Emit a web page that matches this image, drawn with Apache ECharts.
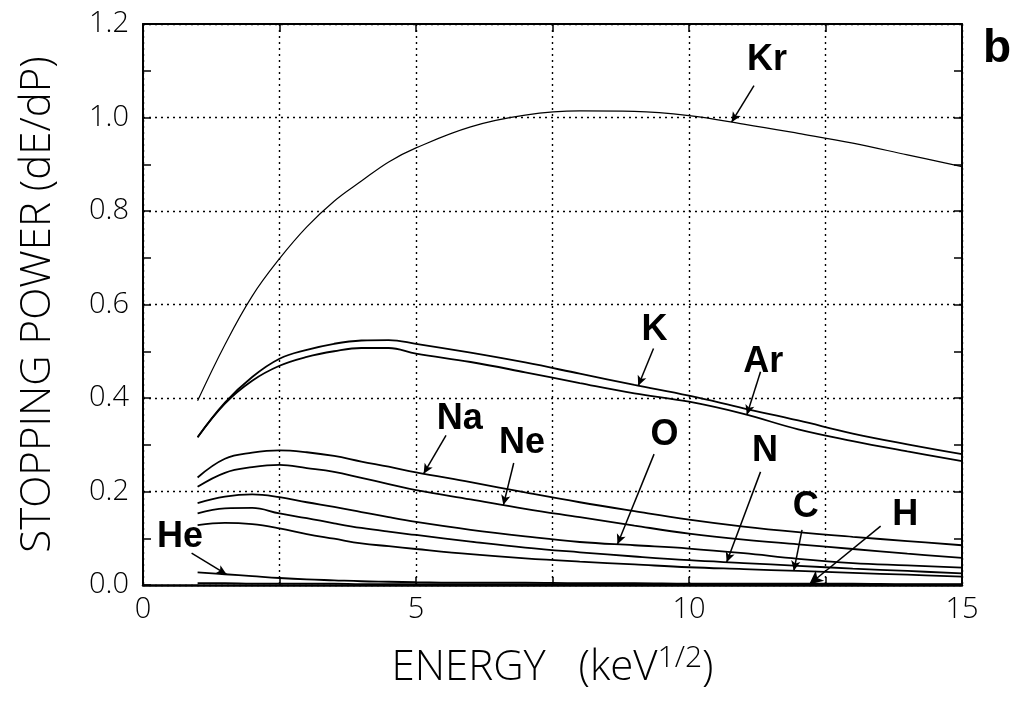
<!DOCTYPE html>
<html>
<head>
<meta charset="utf-8">
<script src="https://cdn.jsdelivr.net/npm/echarts@6/dist/echarts.min.js"></script>
<style>
  html, body { margin: 0; padding: 0; background: #fff; }
  #chart { width: 1017px; height: 703px; }
</style>
</head>
<body>
<div id="chart"></div>
<script>
// Energy grid (keV^1/2) shared by every curve
const energy = [1, 1.5, 2, 2.5, 3, 3.5, 4, 4.5, 5, 6, 7, 8, 9, 10, 11, 12, 13, 14, 15];

// Stopping power curves, one array per projectile
const kr = [0.394, 0.514, 0.618, 0.698, 0.766, 0.821, 0.864, 0.905, 0.935, 0.980, 1.005, 1.014, 1.013, 1.004, 0.986, 0.966, 0.945, 0.920, 0.895];
const k  = [0.316, 0.390, 0.445, 0.484, 0.503, 0.516, 0.523, 0.524, 0.516, 0.497, 0.476, 0.452, 0.428, 0.405, 0.378, 0.352, 0.324, 0.301, 0.280];
const ar = [0.316, 0.388, 0.437, 0.469, 0.488, 0.500, 0.507, 0.507, 0.495, 0.477, 0.455, 0.432, 0.410, 0.392, 0.366, 0.333, 0.308, 0.286, 0.265];
const na = [0.230, 0.270, 0.283, 0.288, 0.284, 0.276, 0.264, 0.253, 0.241, 0.220, 0.198, 0.177, 0.158, 0.140, 0.125, 0.113, 0.103, 0.094, 0.085];
const ne = [0.210, 0.240, 0.252, 0.257, 0.250, 0.242, 0.229, 0.216, 0.203, 0.183, 0.163, 0.145, 0.127, 0.110, 0.097, 0.087, 0.077, 0.067, 0.058];
const ox = [0.175, 0.189, 0.194, 0.188, 0.177, 0.167, 0.156, 0.145, 0.135, 0.118, 0.104, 0.092, 0.085, 0.078, 0.068, 0.056, 0.047, 0.042, 0.037];
const ni = [0.153, 0.164, 0.165, 0.153, 0.143, 0.132, 0.122, 0.114, 0.107, 0.093, 0.080, 0.070, 0.061, 0.053, 0.047, 0.041, 0.035, 0.030, 0.025];
const ca = [0.128, 0.133, 0.130, 0.121, 0.109, 0.099, 0.089, 0.083, 0.077, 0.066, 0.057, 0.050, 0.044, 0.038, 0.034, 0.030, 0.026, 0.022, 0.018];
const he = [0.027, 0.023, 0.019, 0.015, 0.012, 0.010, 0.008, 0.007, 0.006, 0.005, 0.005, 0.004, 0.004, 0.003, 0.003, 0.003, 0.003, 0.002, 0.002];
const hy = [0.004, 0.004, 0.003, 0.003, 0.003, 0.003, 0.002, 0.002, 0.002, 0.002, 0.002, 0.002, 0.001, 0.001, 0.001, 0.001, 0.001, 0.001, 0.001];

// Axis tick labels
const xTickLabels = ['0', '5', '10', '15'];
const yTickLabels = ['0.0', '0.2', '0.4', '0.6', '0.8', '1.0', '1.2'];

const curves = [
  { name: 'Kr', values: kr, width: 1.2 },
  { name: 'K',  values: k,  width: 1.8 },
  { name: 'Ar', values: ar, width: 1.8 },
  { name: 'Na', values: na, width: 1.8 },
  { name: 'Ne', values: ne, width: 1.8 },
  { name: 'O',  values: ox, width: 1.8 },
  { name: 'N',  values: ni, width: 1.8 },
  { name: 'C',  values: ca, width: 1.8 },
  { name: 'He', values: he, width: 1.8 },
  { name: 'H',  values: hy, width: 1.8 }
];

// Callouts: text anchor, arrow start, and the energy the arrow points at on its curve
const callouts = [
  { curve: 'Kr', text: [11.43, 1.122], from: [11.19, 1.068], at: 10.78 },
  { curve: 'K',  text: [9.37, 0.545],  from: [9.35, 0.506],  at: 9.07 },
  { curve: 'Ar', text: [11.36, 0.476], from: [11.31, 0.456], at: 11.06 },
  { curve: 'Na', text: [5.80, 0.355],  from: [5.55, 0.320],  at: 5.14 },
  { curve: 'Ne', text: [6.94, 0.303],  from: [6.79, 0.261],  at: 6.60 },
  { curve: 'O',  text: [9.55, 0.320],  from: [9.36, 0.280],  at: 8.69 },
  { curve: 'N',  text: [11.39, 0.286], from: [11.31, 0.242], at: 10.69 },
  { curve: 'C',  text: [12.14, 0.167], from: [12.07, 0.118], at: 11.92 },
  { curve: 'H',  text: [13.96, 0.150], from: [13.51, 0.126], at: 12.20, heavy: true },
  { curve: 'He', text: [0.68, 0.103],  from: [0.89, 0.068],  at: 1.53 }
];

function valueAt(values, x) {
  for (let i = 0; i < energy.length - 1; i++) {
    if (x >= energy[i] && x <= energy[i + 1]) {
      const t = (x - energy[i]) / (energy[i + 1] - energy[i]);
      return values[i] + t * (values[i + 1] - values[i]);
    }
  }
  return values[values.length - 1];
}

const tickFont = { fontFamily: 'Open Sans, Roboto, sans-serif', fontWeight: 300, fontSize: 29, color: '#000' };
const titleFont = { fontFamily: 'Open Sans, Roboto, sans-serif', fontWeight: 300, fontSize: 42, color: '#000' };
const calloutFont = { fontFamily: 'Liberation Sans, Arial, sans-serif', fontWeight: 'bold', fontSize: 36, color: '#000' };
const gridDots = { type: [2, 4], color: '#000', width: 1.4 };
const frame = { color: '#000', width: 2 };

const byName = {};
curves.forEach(c => { byName[c.name] = c.values; });

const arrowLines = callouts.map(c => [
  { coord: c.from, symbol: 'none' },
  { coord: [c.at, valueAt(byName[c.curve], c.at)], symbol: 'arrow', symbolSize: c.heavy ? [10, 14] : [7, 10] }
]);

const textPoints = callouts.map(c => ({
  coord: c.text,
  symbol: 'rect',
  symbolSize: 1,
  itemStyle: { color: 'rgba(0,0,0,0)' },
  label: Object.assign({ show: true, position: 'inside', formatter: c.curve }, calloutFont)
}));

const series = curves.map((c, idx) => {
  const s = {
    type: 'line',
    name: c.name,
    data: energy.map((e, i) => [e, c.values[i]]),
    showSymbol: false,
    symbol: 'none',
    smooth: 0.4,
    lineStyle: { color: '#000', width: c.width },
    z: 3
  };
  if (idx === 0) {
    s.markLine = {
      silent: true,
      animation: false,
      symbol: ['none', 'arrow'],
      lineStyle: { color: '#000', width: 1.5, type: 'solid' },
      label: { show: false },
      data: arrowLines
    };
    s.markPoint = {
      silent: true,
      animation: false,
      data: textPoints
    };
  }
  return s;
});

const chart = echarts.init(document.getElementById('chart'), null, { renderer: 'canvas' });
chart.setOption({
  animation: false,
  backgroundColor: '#fff',
  grid: { left: 143, right: 55, top: 24, bottom: 118 },
  xAxis: [
    {
      type: 'value', min: 0, max: 15, interval: 2.5, position: 'bottom',
      axisLine: { show: true, onZero: false, lineStyle: { color: '#000', width: 2.5 } },
      axisTick: { show: true, inside: true, length: 8, lineStyle: { color: '#000', width: 1.5 } },
      axisLabel: Object.assign({
        margin: 10,
        formatter: v => (v % 5 === 0 ? xTickLabels[v / 5] : '')
      }, tickFont),
      splitLine: { show: true, lineStyle: gridDots },
      name: '{t|ENERGY   (keV}{s|1/2}{t|)}',
      nameLocation: 'middle',
      nameGap: 58,
      nameTextStyle: {
        rich: {
          t: Object.assign({ lineHeight: 50, verticalAlign: 'middle' }, titleFont),
          s: Object.assign({}, titleFont, { fontSize: 30, lineHeight: 50, verticalAlign: 'top' })
        }
      }
    },
    {
      type: 'value', min: 0, max: 15, interval: 2.5, position: 'top',
      axisLine: { show: true, onZero: false, lineStyle: frame },
      axisTick: { show: true, inside: true, length: 8, lineStyle: { color: '#000', width: 1.5 } },
      axisLabel: { show: false },
      splitLine: { show: false }
    }
  ],
  yAxis: [
    {
      type: 'value', min: 0, max: 1.2, interval: 0.2, position: 'left',
      axisLine: { show: true, onZero: false, lineStyle: frame },
      axisTick: { show: true, inside: true, length: 8, lineStyle: { color: '#000', width: 1.5 } },
      minorTick: { show: true, splitNumber: 2, length: 8, lineStyle: { color: '#000', width: 1.5 } },
      axisLabel: Object.assign({
        margin: 14,
        formatter: v => yTickLabels[Math.round(v / 0.2)]
      }, tickFont),
      splitLine: { show: true, lineStyle: gridDots },
      name: 'STOPPING POWER (dE/dP)',
      nameLocation: 'middle',
      nameRotate: 90,
      nameGap: 84,
      nameTextStyle: titleFont
    },
    {
      type: 'value', min: 0, max: 1.2, interval: 0.2, position: 'right',
      axisLine: { show: true, onZero: false, lineStyle: frame },
      axisTick: { show: true, inside: true, length: 8, lineStyle: { color: '#000', width: 1.5 } },
      minorTick: { show: true, splitNumber: 2, length: 8, lineStyle: { color: '#000', width: 1.5 } },
      axisLabel: { show: false },
      splitLine: { show: false }
    }
  ],
  graphic: [
    {
      type: 'text', left: 983, top: 26,
      style: { text: 'b', fontFamily: 'Liberation Sans, Arial, sans-serif', fontWeight: 'bold', fontSize: 46, fill: '#000' }
    }
  ],
  series: series
});
</script>
</body>
</html>
